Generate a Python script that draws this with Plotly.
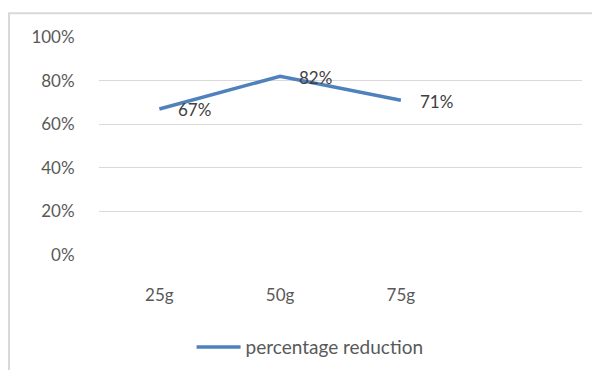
import plotly.graph_objects as go

categories = ["25g", "50g", "75g"]
values = [0.67, 0.82, 0.71]
value_labels = ["67%", "82%", "71%"]
series_name = "percentage reduction"
y_ticks = [0, 0.2, 0.4, 0.6, 0.8, 1.0]
y_tick_labels = ["0%", "20%", "40%", "60%", "80%", "100%"]

FONT = "Lato"
fig = go.Figure()
fig.add_trace(go.Scatter(
    x=categories, y=values, mode="lines", name=series_name,
    line=dict(color="#4f81bd", width=3.5),
    showlegend=True,
))
for c, v, t in zip(categories, values, value_labels):
    fig.add_annotation(x=c, y=v, text=t, showarrow=False, xanchor="left",
                       yanchor="middle", xshift=17, yshift=-1,
                       font=dict(family=FONT, size=17, color="#404040"))

# outer chart border (top and left visible)
fig.add_shape(type="rect", xref="paper", yref="paper",
              x0=-0.1863, x1=1.2, y0=-0.8, y1=1.109,
              line=dict(color="#d9d9d9", width=2), fillcolor="rgba(0,0,0,0)", layer="below")

fig.update_layout(
    width=600, height=370,
    margin=dict(l=91, r=26, t=29, b=121),
    paper_bgcolor="white", plot_bgcolor="white",
    font=dict(family=FONT, size=17, color="#595959"),
    legend=dict(orientation="h", x=0.437, xanchor="center", y=-0.423, yanchor="middle",
                font=dict(family=FONT, size=19, color="#595959"),
                itemwidth=44, bgcolor="rgba(0,0,0,0)"),
    xaxis=dict(type="category", categoryorder="array", categoryarray=categories,
               range=[-0.5, 3.5], showgrid=False, zeroline=False, showline=False,
               ticks="outside", ticklen=25, tickcolor="rgba(0,0,0,0)",
               tickfont=dict(family=FONT, size=17, color="#595959")),
    yaxis=dict(range=[0, 1], tickvals=y_ticks, ticktext=y_tick_labels,
               showgrid=True, gridcolor="#d9d9d9", gridwidth=1, zeroline=False,
               showline=False, ticks="outside", ticklen=20, tickcolor="rgba(0,0,0,0)",
               tickfont=dict(family=FONT, size=17, color="#595959")),
)
fig.write_html("out.html")
